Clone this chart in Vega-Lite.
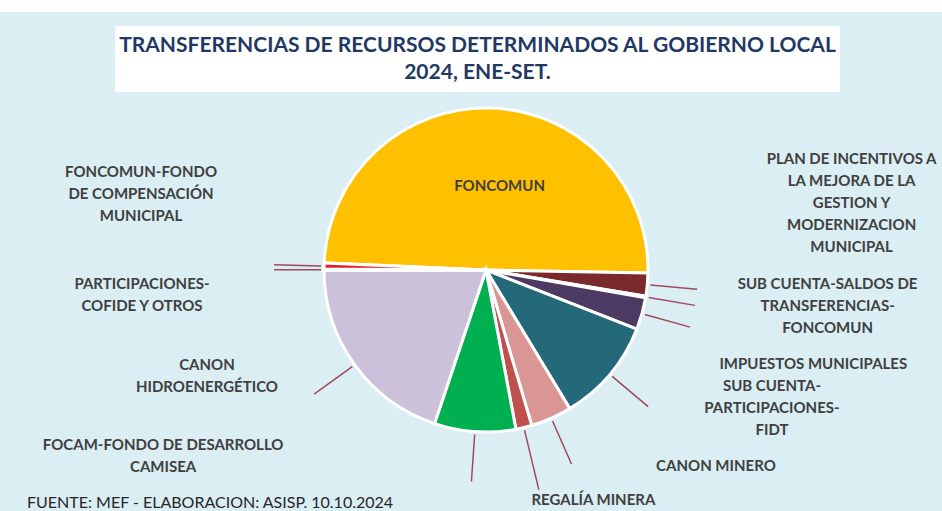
{
  "$schema": "https://vega.github.io/schema/vega-lite/v6.json",
  "padding": 0,
  "background": "#DAEEF3",
  "spacing": 0,
  "bounds": "flush",
  "columns": 3,
  "config": {
    "view": {"stroke": null},
    "concat": {"spacing": 0},
    "text": {"font": "Lato", "fontWeight": "bold", "fontSize": 15, "color": "#404040", "lineBreak": "\n", "lineHeight": 22, "align": "center", "baseline": "middle"}
  },
  "concat": [
    {"width": 115, "height": 12, "view": {"fill": "white"}, "data": {"values": [{}]}, "mark": {"type": "text", "fontSize": 1, "lineHeight": 1}, "encoding": {"text": {"value": ""}}},
    {"width": 742, "height": 12, "view": {"fill": "white"}, "data": {"values": [{}]}, "mark": {"type": "text", "fontSize": 1, "lineHeight": 1}, "encoding": {"text": {"value": ""}}},
    {"width": 85, "height": 12, "view": {"fill": "white"}, "data": {"values": [{}]}, "mark": {"type": "text", "fontSize": 1, "lineHeight": 1}, "encoding": {"text": {"value": ""}}},

    {"width": 115, "height": 14, "data": {"values": [{}]}, "mark": {"type": "text", "fontSize": 1, "lineHeight": 1}, "encoding": {"text": {"value": ""}}},
    {"width": 742, "height": 14, "data": {"values": [{}]}, "mark": {"type": "text", "fontSize": 1, "lineHeight": 1}, "encoding": {"text": {"value": ""}}},
    {"width": 85, "height": 14, "data": {"values": [{}]}, "mark": {"type": "text", "fontSize": 1, "lineHeight": 1}, "encoding": {"text": {"value": ""}}},

    {"width": 115, "height": 66, "data": {"values": [{}]}, "mark": {"type": "text", "fontSize": 1, "lineHeight": 1}, "encoding": {"text": {"value": ""}}},
    {"width": 725, "height": 66, "view": {"fill": "white"},
     "data": {"values": [{"t": "TRANSFERENCIAS DE RECURSOS DETERMINADOS AL GOBIERNO LOCAL\n2024, ENE-SET."}]},
     "mark": {"type": "text", "fontSize": 21, "color": "#1F3864", "lineHeight": 27, "dy": -13.5},
     "encoding": {"text": {"field": "t"}}},
    {"width": 85, "height": 66, "data": {"values": [{}]}, "mark": {"type": "text", "fontSize": 1, "lineHeight": 1}, "encoding": {"text": {"value": ""}}},

    {"width": 115, "height": 356, "data": {"values": [{}]}, "mark": {"type": "text", "fontSize": 1, "lineHeight": 1}, "encoding": {"text": {"value": ""}}},
    {
      "width": 742, "height": 356,
      "data": {"values": [
        {"cat": "FONCOMUN", "label": "FONCOMUN", "value": 49.6, "ord": 1},
        {"cat": "PLAN", "label": "PLAN DE INCENTIVOS A\nLA MEJORA  DE LA\nGESTION  Y\nMODERNIZACION\nMUNICIPAL", "value": 2.3, "ord": 2},
        {"cat": "SALDOS", "label": "SUB CUENTA-SALDOS  DE\nTRANSFERENCIAS-\nFONCOMUN", "value": 0.15, "ord": 3},
        {"cat": "IMPUESTOS", "label": "IMPUESTOS  MUNICIPALES", "value": 3.2, "ord": 4},
        {"cat": "FIDT", "label": "SUB CUENTA-\nPARTICIPACIONES-\nFIDT", "value": 10.4, "ord": 5},
        {"cat": "CANON MINERO", "label": "CANON MINERO", "value": 4.1, "ord": 6},
        {"cat": "REGALIA", "label": "REGALÍA  MINERA", "value": 1.6, "ord": 7},
        {"cat": "FOCAM", "label": "FOCAM-FONDO DE DESARROLLO\nCAMISEA", "value": 8.1, "ord": 8},
        {"cat": "HIDRO", "label": "CANON\nHIDROENERGÉTICO", "value": 19.8, "ord": 9},
        {"cat": "COFIDE", "label": "PARTICIPACIONES-\nCOFIDE  Y OTROS", "value": 0.15, "ord": 10},
        {"cat": "FONDO", "label": "FONCOMUN-FONDO\nDE COMPENSACIÓN\nMUNICIPAL", "value": 0.6, "ord": 11}
      ]},
      "encoding": {
        "theta": {"field": "value", "type": "quantitative", "stack": true, "scale": {"range": [-1.5272, 4.756]}},
        "order": {"field": "ord", "type": "quantitative"}
      },
      "layer": [
        {"mark": {"type": "arc", "outerRadius": 162, "stroke": "white", "strokeWidth": 3},
         "encoding": {"color": {"field": "cat", "type": "nominal", "legend": null,
           "scale": {"domain": ["FONCOMUN", "PLAN", "SALDOS", "IMPUESTOS", "FIDT", "CANON MINERO", "REGALIA", "FOCAM", "HIDRO", "COFIDE", "FONDO"],
                     "range": ["#FFC000", "#7A2A2A", "#953735", "#4D3A62", "#24697A", "#DA9694", "#C0504D", "#00B050", "#CCC1DA", "#C0504D", "#E0202A"]}}}},
        {"mark": {"type": "arc", "innerRadius": 165, "outerRadius": 212, "padAngle": 3, "fillOpacity": 0, "stroke": "#A04A5C", "strokeWidth": 1.5},
         "encoding": {"strokeOpacity": {"condition": {"test": "datum.cat === 'FONCOMUN' || datum.cat === 'REGALIA'", "value": 0}, "value": 1}}},
        {"mark": {"type": "arc", "innerRadius": 165, "outerRadius": 226, "padAngle": 3, "fillOpacity": 0, "stroke": "#A04A5C", "strokeWidth": 1.5},
         "encoding": {"strokeOpacity": {"condition": {"test": "datum.cat === 'REGALIA'", "value": 1}, "value": 0}}},
        {"mark": {"type": "text", "radius": 84, "dx": 11, "dy": 0},
         "encoding": {"text": {"condition": {"test": "datum.cat === 'FONCOMUN'", "field": "label"}, "value": ""}}},
        {"mark": {"type": "text", "radius": 100, "dx": 266, "dy": -119.6},
         "encoding": {"text": {"condition": {"test": "datum.cat === 'PLAN'", "field": "label"}, "value": ""}}},
        {"mark": {"type": "text", "radius": 100, "dx": 243, "dy": -3},
         "encoding": {"text": {"condition": {"test": "datum.cat === 'SALDOS'", "field": "label"}, "value": ""}}},
        {"mark": {"type": "text", "radius": 100, "dx": 231, "dy": 67},
         "encoding": {"text": {"condition": {"test": "datum.cat === 'IMPUESTOS'", "field": "label"}, "value": ""}}},
        {"mark": {"type": "text", "radius": 100, "dx": 209.5, "dy": 51.6},
         "encoding": {"text": {"condition": {"test": "datum.cat === 'FIDT'", "field": "label"}, "value": ""}}},
        {"mark": {"type": "text", "radius": 100, "dx": 189.6, "dy": 104.5},
         "encoding": {"text": {"condition": {"test": "datum.cat === 'CANON MINERO'", "field": "label"}, "value": ""}}},
        {"mark": {"type": "text", "radius": 100, "dx": 84, "dy": 132.8},
         "encoding": {"text": {"condition": {"test": "datum.cat === 'REGALIA'", "field": "label"}, "value": ""}}},
        {"mark": {"type": "text", "radius": 100, "dx": -316, "dy": 75},
         "encoding": {"text": {"condition": {"test": "datum.cat === 'FOCAM'", "field": "label"}, "value": ""}}},
        {"mark": {"type": "text", "radius": 100, "dx": -198, "dy": 36.5},
         "encoding": {"text": {"condition": {"test": "datum.cat === 'HIDRO'", "field": "label"}, "value": ""}}},
        {"mark": {"type": "text", "radius": 100, "dx": -244, "dy": 14},
         "encoding": {"text": {"condition": {"test": "datum.cat === 'COFIDE'", "field": "label"}, "value": ""}}},
        {"mark": {"type": "text", "radius": 100, "dx": -245, "dy": -96},
         "encoding": {"text": {"condition": {"test": "datum.cat === 'FONDO'", "field": "label"}, "value": ""}}}
      ]
    },
    {"width": 85, "height": 356, "data": {"values": [{}]}, "mark": {"type": "text", "fontSize": 1, "lineHeight": 1}, "encoding": {"text": {"value": ""}}},

    {"width": 115, "height": 57, "data": {"values": [{}]}, "mark": {"type": "text", "fontSize": 1, "lineHeight": 1}, "encoding": {"text": {"value": ""}}},
    {"width": 742, "height": 57, "data": {"values": [{}]}, "mark": {"type": "text", "fontSize": 1, "lineHeight": 1}, "encoding": {"text": {"value": ""}}},
    {"width": 85, "height": 57, "data": {"values": [{}]}, "mark": {"type": "text", "fontSize": 1, "lineHeight": 1}, "encoding": {"text": {"value": ""}}},

    {"width": 54, "height": 6, "data": {"values": [{"t": "FUENTE:  MEF - ELABORACION:  ASISP. 10.10.2024"}]},
     "mark": {"type": "text", "fontWeight": "normal", "fontSize": 16, "lineHeight": 16, "baseline": "alphabetic", "align": "left", "color": "#262626"},
     "encoding": {"text": {"field": "t"}}},
    {"width": 742, "height": 6, "data": {"values": [{}]}, "mark": {"type": "text", "fontSize": 1, "lineHeight": 1}, "encoding": {"text": {"value": ""}}},
    {"width": 85, "height": 6, "data": {"values": [{}]}, "mark": {"type": "text", "fontSize": 1, "lineHeight": 1}, "encoding": {"text": {"value": ""}}}
  ]
}
